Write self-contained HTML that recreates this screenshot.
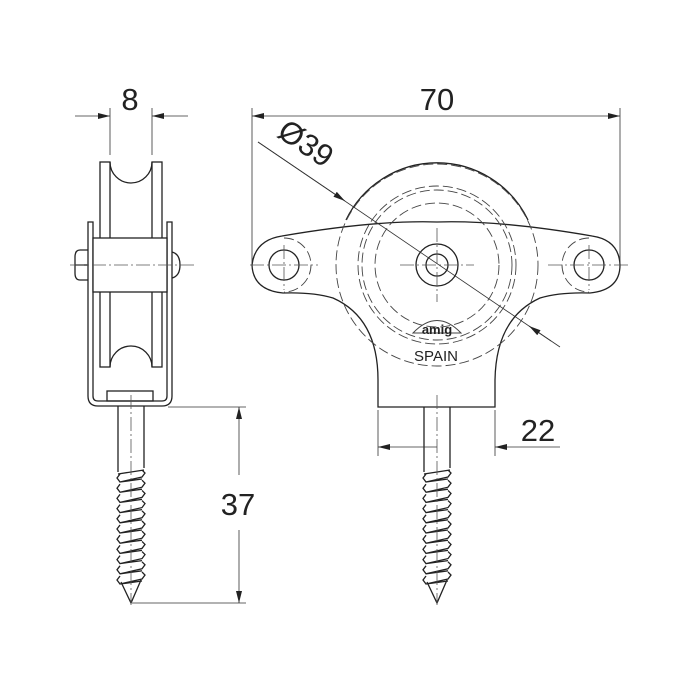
<!DOCTYPE html>
<html><head><style>
html,body{margin:0;padding:0;background:#fff;}
svg{display:block;}
text{font-family:"Liberation Sans","DejaVu Sans",sans-serif;fill:#222;}
</style></head><body>
<svg id="s" width="700" height="700" viewBox="0 0 700 700" xmlns="http://www.w3.org/2000/svg">
<defs>
<marker id="a" viewBox="0 0 12 6" refX="12" refY="3" markerWidth="12" markerHeight="6" orient="auto" markerUnits="userSpaceOnUse"><path d="M0,0L12,3L0,6z" fill="#222"/></marker>
</defs>
<g fill="none" stroke="#222" stroke-width="1.3">
<path d="M88,222 H93 V396 Q93,401 98,401 H162 Q167,401 167,396 V222 H172 V396 Q172,406 162,406 H98 Q88,406 88,396 Z"/>
<rect x="100" y="162" width="10" height="205"/>
<rect x="152" y="162" width="10" height="205"/>
<path d="M110,162 A21,21 0 0 0 152,162"/>
<path d="M110,367 A21,21 0 0 1 152,367"/>
<rect x="93" y="238" width="74" height="54" fill="#fff"/>
<path d="M88,250 H80 Q75,250 75,257 V273 Q75,280 80,280 H88"/>
<path d="M75,265 H88"/>
<path d="M172,252 Q180,254 180,265 Q180,276 172,278"/>
<rect x="107" y="391" width="46" height="10"/>
<path d="M118,406 V472 M144,406 V468"/>
<path id="t1" d=""/>
<path d="M378,407 H495 V380 Q496,318 540,298 Q560,292 590,293 Q620,290 620,265 Q619,240 592,236 Q500,220 437,222 Q375,220 282,236 Q255,240 252,265 Q253,290 283,293 Q313,292 333,298 Q378,318 378,380 Z"/>
<path d="M346,220 A101,101 0 0 1 528,220"/>
<circle cx="437" cy="265" r="21"/>
<circle cx="437" cy="265" r="11"/>
<circle cx="284" cy="265" r="15"/>
<circle cx="589" cy="265" r="15"/>
<path id="t2" d=""/>
<path d="M424,407 V472 M450,407 V468"/>
</g>
<g fill="none" stroke="#444" stroke-width="0.9" stroke-dasharray="10,4">
<circle cx="437" cy="265" r="101"/>
<circle cx="437" cy="265" r="79"/>
<circle cx="437" cy="265" r="75"/>
<circle cx="437" cy="265" r="62"/>
<path d="M284,238 A27,27 0 0 1 284,292"/>
<path d="M589,238 A27,27 0 0 0 589,292"/>
</g>
<g fill="none" stroke="#555" stroke-width="0.8" stroke-dasharray="14,3,2,3">
<path d="M70,265 H195 M400,265 H474 M437,228 V302 M250,265 H318 M284,245 V290 M548,265 H630 M589,245 V290 M131,395 V605 M437,395 V605"/>
</g>
<g fill="none" stroke="#333" stroke-width="0.8">
<path d="M110,108 V155 M152,108 V155"/>
<path d="M75,116 H110" marker-end="url(#a)"/>
<path d="M188,116 H152" marker-end="url(#a)"/>
<path d="M252,108 V265 M620,108 V265"/>
<path d="M437,116 H252" marker-end="url(#a)"/>
<path d="M437,116 H620" marker-end="url(#a)"/>
<path d="M258,142 L551,341"/>
<path d="M258,142 L345,201" marker-end="url(#a)"/>
<path d="M560,347 L529,326" marker-end="url(#a)"/>
<path d="M378,410 V456 M495,410 V456"/>
<path d="M437,447 H378" marker-end="url(#a)"/>
<path d="M560,447 H495" marker-end="url(#a)"/>
<path d="M168,407 H246 M132,603 H246"/>
<path d="M239,475 V407" marker-end="url(#a)"/>
<path d="M239,530 V603" marker-end="url(#a)"/>
</g>
<text x="130" y="110" font-size="31" text-anchor="middle">8</text>
<text x="437" y="110" font-size="31" text-anchor="middle">70</text>
<text x="300" y="152" font-size="31" text-anchor="middle" transform="rotate(34 300 152)">Ø39</text>
<text x="538" y="441" font-size="31" text-anchor="middle">22</text>
<text x="238" y="515" font-size="31" text-anchor="middle">37</text>
<text x="436" y="361" font-size="15" text-anchor="middle">SPAIN</text>
<g fill="none" stroke="#444" stroke-width="1">
<path d="M413,333 Q437,308 461,333 Z"/>
</g>
<text x="437" y="334" font-size="13" text-anchor="middle" font-weight="bold" fill="#666">amig</text>
</svg>
<script>
function th(cx){var d="",L=cx-13,R=cx+13,y=470;
d+="M"+L+","+(y+4)+" L"+R+","+y;
for(var i=0;i<11;i++){var y0=y+i*10.2;
d+=" M"+(L+2)+","+(y0+4)+" L"+(L-1)+","+(y0+8)+" L"+(L+2)+","+(y0+12)+" L"+(R-2)+","+(y0+7)+" L"+(R+1)+","+(y0+3)+" L"+(R-2)+","+y0;
d+=" M"+(L+2)+","+(y0+12)+" L"+(R-2)+","+(y0+9);}
d+=" M"+(L+3)+",582 L"+cx+",603 L"+(R-3)+",580";
return d;}
document.getElementById("t1").setAttribute("d",th(131));
document.getElementById("t2").setAttribute("d",th(437));
</script>
</body></html>
